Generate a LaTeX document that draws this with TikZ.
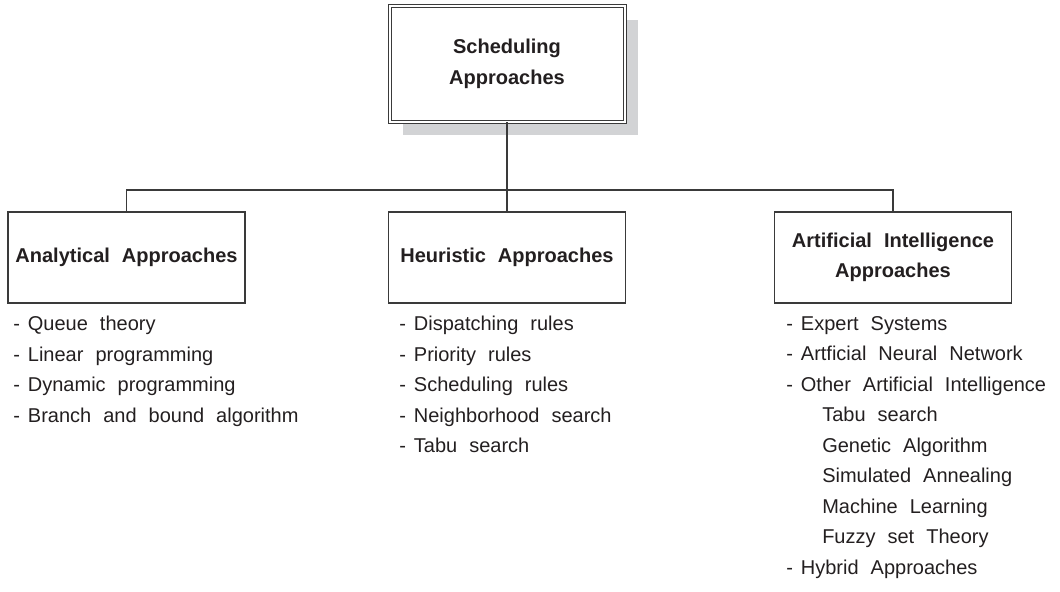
\documentclass[tikz,border=0pt]{standalone}
\usepackage{fontspec}
\setmainfont{Liberation Sans}
\usetikzlibrary{shadows}

\definecolor{linegray}{HTML}{3A3A3A}
\definecolor{textgray}{HTML}{231F20}
\definecolor{shadowgray}{HTML}{D2D3D5}

\newcommand{\txtfont}{\fontsize{15}{22.9}\selectfont\spaceskip=9pt\relax}
\newcommand{\litem}{-\hspace{6pt}}

\begin{document}
\begin{tikzpicture}[x=0.75pt,y=-0.75pt,
    box/.style={rectangle,draw=linegray,line width=0.8pt,fill=white,text=textgray,
      minimum width=177.75pt,minimum height=68.25pt,align=center,
      font=\txtfont\bfseries},
    rootbox/.style={box,line width=0.75pt,double=white,double distance=1.5pt,
      minimum width=176.25pt,minimum height=86.25pt,
      drop shadow={shadow xshift=10pt,shadow yshift=-10pt,fill=shadowgray,opacity=1}},
    list/.style={anchor=north west,align=left,inner sep=0pt,text=textgray,font=\txtfont},
    link/.style={draw=linegray,line width=0.8pt}]
  \useasboundingbox (0,0) rectangle (1060,592);

  \node[rootbox] (root) at (507,64) {Scheduling\\Approaches};
  \node[box] (ana) at (126.5,257.5) {Analytical Approaches};
  \node[box] (heu) at (507,257.5) {Heuristic Approaches};
  \node[box] (ai) at (893,257.5) {Artificial Intelligence\\Approaches};
  \coordinate (bus) at (507,190);

  \draw[link] (root) -- (bus);
  \draw[link] (ana) |- (bus) -| (ai);
  \draw[link] (bus) -- (heu);

  \node[list] (analist) at (13,316) {\litem Queue theory\\\litem Linear programming\\
    \litem Dynamic programming\\\litem Branch and bound algorithm};
  \node[list] (heulist) at (399,316) {\litem Dispatching rules\\\litem Priority rules\\
    \litem Scheduling rules\\\litem Neighborhood search\\\litem Tabu search};
  \node[list] (ailist) at (786,316) {\litem Expert Systems\\\litem Artficial Neural Network\\
    \litem Other Artificial Intelligence\\
    \hspace*{27pt}Tabu search\\\hspace*{27pt}Genetic Algorithm\\
    \hspace*{27pt}Simulated Annealing\\\hspace*{27pt}Machine Learning\\
    \hspace*{27pt}Fuzzy set Theory\\\litem Hybrid Approaches};
\end{tikzpicture}
\end{document}
